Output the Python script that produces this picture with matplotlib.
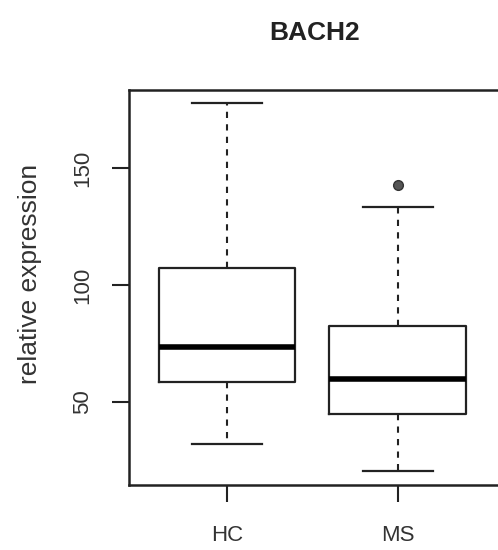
import matplotlib
matplotlib.use('Agg')
import matplotlib.pyplot as plt

plt.rcParams['font.family'] = ['Liberation Sans', 'DejaVu Sans']

groups = ['HC', 'MS']
whisk_low = [32, 20.5]
q1 = [58.5, 44.8]
medians = [73.5, 59.7]
q3 = [107.3, 82.4]
whisk_high = [178, 133.3]
outliers = [[], [142.7]]

stats = []
for i, g in enumerate(groups):
    stats.append({'label': g, 'whislo': whisk_low[i], 'q1': q1[i], 'med': medians[i],
                  'q3': q3[i], 'whishi': whisk_high[i], 'fliers': outliers[i]})

col = '#222222'
fig = plt.figure(figsize=(4.98, 5.5), dpi=100)
ax = fig.add_axes([0.259, 0.118, 0.745, 0.718])

ax.bxp(stats, positions=[1, 2], widths=0.8,
       boxprops=dict(color=col, linewidth=1.6),
       medianprops=dict(color='black', linewidth=4),
       whiskerprops=dict(color=col, linewidth=1.5, linestyle=(0, (3, 3))),
       capprops=dict(color=col, linewidth=1.6),
       capwidths=0.41,
       flierprops=dict(marker='o', markersize=7, markerfacecolor='#555555',
                       markeredgecolor='#333333'))

ax.set_xlim(0.424, 2.6)
ax.set_ylim(14.5, 183.3)
ax.set_yticks([50, 100, 150])
ax.set_yticklabels(['50', '100', '150'], rotation=90, va='center')
ax.set_xticks([1, 2])
ax.set_xticklabels(groups)
ax.tick_params(axis='both', length=12, width=1.5, colors=col, labelsize=16,
               labelcolor='#333333')
ax.tick_params(axis='x', pad=17)
ax.tick_params(axis='y', pad=14)
for s in ax.spines.values():
    s.set_linewidth(1.8)
    s.set_color(col)

ax.set_ylabel('relative expression', fontsize=19, color='#333333')
ax.yaxis.set_label_coords(-0.234, 0.534)
ax.set_title('BACH2', fontsize=19, fontweight='bold', color='#222222', pad=36)

fig.savefig('out.png', dpi=100)
